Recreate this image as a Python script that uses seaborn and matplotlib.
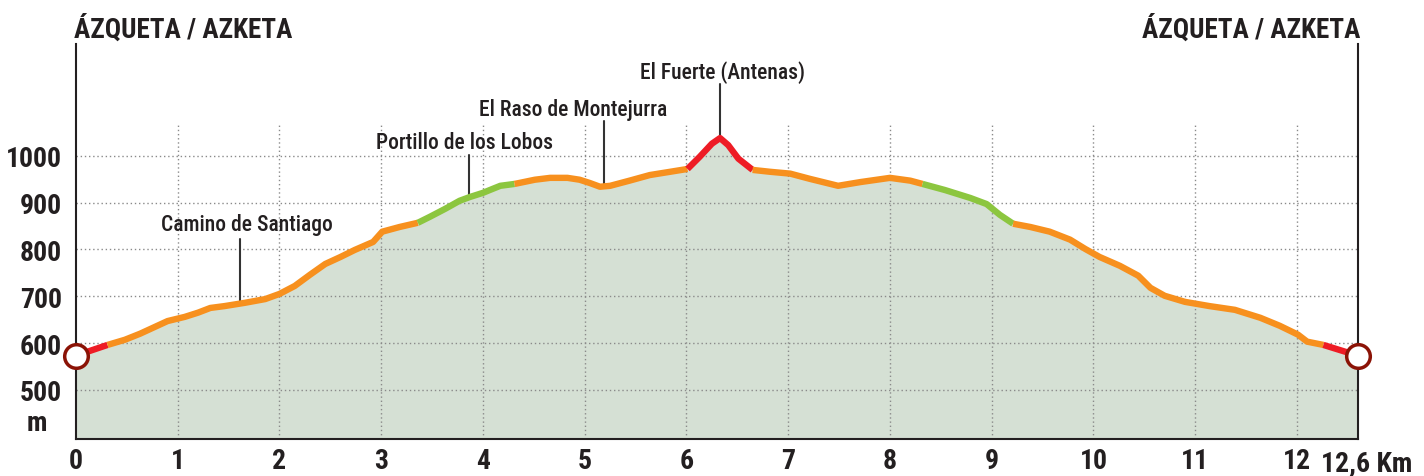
import numpy as np
import matplotlib
matplotlib.use("Agg")
import matplotlib.pyplot as plt
import seaborn as sns
import pandas as pd

# profile: distance (km) and elevation (m)
km = [0.00, 0.16, 0.31, 0.48, 0.63, 0.78, 0.90, 1.07, 1.20, 1.32, 1.46, 1.66, 1.86,
      2.00, 2.15, 2.30, 2.45, 2.60, 2.74, 2.92, 3.01, 3.18, 3.36, 3.48, 3.63, 3.77,
      3.87, 4.00, 4.09, 4.17, 4.31, 4.51, 4.66, 4.83, 4.95, 5.05, 5.15, 5.25, 5.44,
      5.64, 5.84, 6.01, 6.13, 6.25, 6.33, 6.41, 6.51, 6.65, 6.82, 7.02, 7.21, 7.49,
      7.71, 8.00, 8.20, 8.32, 8.54, 8.79, 8.95, 9.08, 9.21, 9.38, 9.57, 9.77, 9.92,
      10.06, 10.26, 10.44, 10.56, 10.70, 10.90, 11.14, 11.39, 11.64, 11.83, 12.01,
      12.10, 12.26, 12.60]
elev = [573, 585, 596, 607, 620, 635, 647, 656, 665, 675, 679, 686, 694,
        705, 722, 746, 769, 784, 799, 816, 838, 848, 857, 870, 887, 904,
        912, 921, 929, 936, 940, 949, 953, 953, 949, 942, 934, 936, 947,
        959, 966, 972, 998, 1026, 1038, 1023, 994, 970, 966, 962, 951, 936,
        944, 953, 947, 940, 927, 910, 897, 874, 855, 848, 838, 821, 801,
        784, 765, 744, 718, 701, 688, 679, 671, 654, 637, 618,
        603, 596, 573]

# slope classes: (from km, to km, class)
seg_start = [0.00, 0.31, 3.36, 4.31, 6.01, 6.65, 8.32, 9.21, 12.26]
seg_end = [0.31, 3.36, 4.31, 6.01, 6.65, 8.32, 9.21, 12.26, 12.60]
seg_class = ["hard", "medium", "easy", "medium", "hard", "medium", "easy", "medium", "hard"]
class_colors = {"easy": "#8CC63F", "medium": "#F7901E", "hard": "#EE1C25"}

# named places
place_names = ["Camino de Santiago", "Portillo de los Lobos", "El Raso de Montejurra", "El Fuerte (Antenas)"]
place_km = [1.61, 3.86, 5.19, 6.33]
place_top = [823, 1002, 1075, 1154]
label_km = [1.68, 3.82, 4.89, 6.35]
label_elev = [855, 1030, 1100, 1180]

y_ticks = [500, 600, 700, 800, 900, 1000]
x_ticks = list(range(0, 13))
town = "ÁZQUETA / AZKETA"

df = pd.DataFrame({"km": km, "elev": elev})

sns.set_style("white")
plt.rcParams["font.family"] = ["Roboto Condensed", "DejaVu Sans Condensed",
                               "Liberation Sans Narrow", "Roboto", "DejaVu Sans"]

fig = plt.figure(figsize=(14.24, 4.77), dpi=100)
ax = fig.add_axes([76 / 1424, 1 - 440 / 477, 1282 / 1424, 395 / 477])

ybot, ytop = 395, 1239
ax.set_xlim(0, 12.6)
ax.set_ylim(ybot, ytop)

# grid
ax.hlines(y_ticks, 0, 12.6, colors="#8a8a8a", linestyles=(0, (1, 2)), linewidth=1, zorder=1)
ax.vlines(x_ticks[1:], ybot, 1068, colors="#8a8a8a", linestyles=(0, (1, 2)), linewidth=1, zorder=1)

# area + coloured line
ax.fill_between(df["km"], df["elev"], ybot, color="#D5E0D4", zorder=0, linewidth=0)
for s, e, c in zip(seg_start, seg_end, seg_class):
    part = df[(df["km"] >= s - 1e-9) & (df["km"] <= e + 1e-9)]
    sns.lineplot(data=part, x="km", y="elev", color=class_colors[c], linewidth=4.6,
                 ax=ax, zorder=3, solid_capstyle="butt", solid_joinstyle="round")

# start / finish markers
ax.plot([km[0], km[-1]], [elev[0], elev[-1]], "o", markersize=17, markerfacecolor="white",
        markeredgecolor="#8B1306", markeredgewidth=2.5, zorder=5, clip_on=False)

# place labels
for name, pk, pt, lk, le in zip(place_names, place_km, place_top, label_km, label_elev):
    base = np.interp(pk, km, elev)
    ax.plot([pk, pk], [base, pt], color="#333333", linewidth=1.5, zorder=2)
    ax.text(lk, le, name, ha="center", va="center", fontsize=15.5, fontweight="medium",
            color="#231F20")

# axes
ax.spines["top"].set_visible(False)
for side in ["left", "right", "bottom"]:
    ax.spines[side].set_color("#231F20")
    ax.spines[side].set_linewidth(1.5)

ax.set_yticks(y_ticks)
ax.set_yticklabels([str(v) for v in y_ticks])
ax.set_xticks(x_ticks)
ax.set_xticklabels([str(v) for v in x_ticks])
ax.tick_params(axis="y", length=0, labelsize=20, labelcolor="#231F20", pad=10)
ax.tick_params(axis="x", length=0, labelsize=20, labelcolor="#231F20", pad=6)
for lab in ax.get_xticklabels() + ax.get_yticklabels():
    lab.set_fontweight("bold")
ax.set_xlabel("")
ax.set_ylabel("")

ax.text(-0.38, 430, "m", ha="center", va="center", fontsize=20, fontweight="bold",
        color="#231F20", clip_on=False)
ax.text(12.24, -0.062, "12,6 Km", ha="left", va="center", fontsize=20, fontweight="bold",
        color="#231F20", transform=ax.get_xaxis_transform(), clip_on=False)

fig.text(74 / 1424, 1 - 30 / 477, town, ha="left", va="center", fontsize=19.5,
         fontweight="bold", color="#231F20")
fig.text(1360 / 1424, 1 - 30 / 477, town, ha="right", va="center", fontsize=19.5,
         fontweight="bold", color="#231F20")

fig.savefig("out.png", dpi=100)
